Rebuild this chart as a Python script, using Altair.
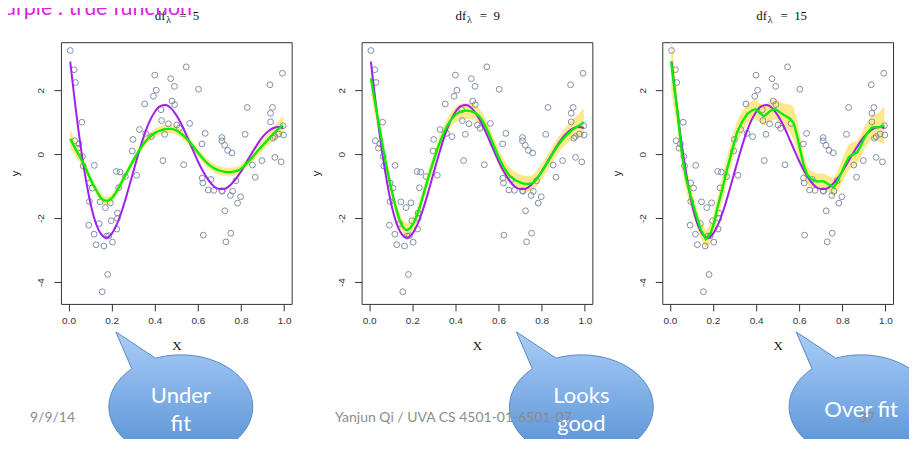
import altair as alt
import pandas as pd
import math

# ---------------- data ----------------
pts_x = [0.008,0.026,0.032,0.062,0.029,0.049,0.043,0.065,0.068,0.120,
         0.097,0.110,0.097,0.147,0.194,0.171,0.094,0.119,0.142,0.128,
         0.164,0.177,0.187,0.204,0.198,0.227,0.227,0.224,0.182,0.156,
         0.222,0.239,0.233,0.264,0.296,0.299,0.316,0.329,0.353,0.358,
         0.384,0.394,0.407,0.400,0.429,0.432,0.438,0.446,0.463,0.474,
         0.480,0.491,0.492,0.502,0.514,0.534,0.546,0.562,0.603,0.619,
         0.620,0.623,0.634,0.625,0.648,0.660,0.674,0.711,0.711,0.724,
         0.738,0.758,0.711,0.713,0.751,0.761,0.776,0.725,0.784,0.798,
         0.753,0.730,0.819,0.829,0.853,0.866,0.897,0.934,0.937,0.937,
         0.946,0.949,0.957,0.957,0.975,0.986,0.992,0.995,0.997]
pts_y = [3.24,2.64,2.24,1.00,0.42,0.32,0.19,-0.07,-0.37,-0.35,
         -0.90,-1.06,-1.48,-1.49,-1.52,-1.67,-2.22,-2.50,-2.17,-2.83,
         -2.87,-2.56,-2.55,-2.75,-2.08,-1.84,-2.01,-2.34,-3.76,-4.30,
         -0.54,-0.56,-1.05,-0.70,0.10,0.46,-0.66,0.77,1.57,0.65,
         0.55,1.81,2.00,2.47,1.39,1.05,-0.20,0.62,0.95,2.36,
         1.66,2.12,1.55,0.91,0.81,-0.33,2.73,0.96,2.03,0.32,
         -0.75,-0.90,0.65,-2.53,-1.12,-0.79,-1.13,0.52,0.42,0.28,
         0.12,0.04,-1.14,-1.16,-1.29,-1.16,-0.83,-1.77,-1.53,-1.33,
         -2.47,-2.74,0.62,1.46,-0.34,-0.72,-0.20,2.17,1.28,1.01,
         1.46,0.50,0.55,-0.10,0.63,-0.24,2.53,0.89,0.60]

grid_x = [0.008,0.025,0.05,0.075,0.1,0.125,0.15,0.175,0.2,0.225,
          0.25,0.275,0.3,0.325,0.35,0.375,0.4,0.425,0.45,0.475,
          0.5,0.525,0.55,0.575,0.6,0.625,0.65,0.675,0.7,0.725,
          0.75,0.775,0.8,0.825,0.85,0.875,0.9,0.925,0.95,0.975,0.995]
true_y = [2.89,1.90,0.56,-0.57,-1.48,-2.12,-2.49,-2.61,-2.49,-2.18,
          -1.72,-1.16,-0.56,0.03,0.57,1.01,1.32,1.50,1.54,1.44,
          1.22,0.92,0.55,0.16,-0.22,-0.55,-0.82,-1.01,-1.09,-1.08,
          -0.97,-0.78,-0.54,-0.26,0.03,0.30,0.54,0.71,0.82,0.85,0.82]

fit5 = [0.48,0.26,-0.05,-0.37,-0.75,-1.08,-1.36,-1.46,-1.38,-1.14,
        -0.83,-0.52,-0.20,0.09,0.34,0.53,0.66,0.74,0.78,0.79,
        0.74,0.63,0.47,0.27,0.05,-0.15,-0.32,-0.44,-0.51,-0.55,
        -0.56,-0.53,-0.46,-0.30,-0.12,0.08,0.27,0.46,0.64,0.80,0.90]
half5 = [0.30,0.24,0.19,0.16,0.14,0.13,0.13,0.13,0.13,0.13,
         0.13,0.13,0.13,0.13,0.13,0.13,0.13,0.13,0.13,0.13,
         0.13,0.13,0.13,0.13,0.13,0.13,0.13,0.13,0.13,0.13,
         0.13,0.13,0.13,0.13,0.14,0.15,0.16,0.18,0.21,0.25,0.30]

fit9 = [2.37,1.70,0.75,-0.20,-1.00,-1.70,-2.20,-2.37,-2.22,-1.85,
        -1.30,-0.72,-0.18,0.32,0.72,1.03,1.23,1.33,1.36,1.34,
        1.25,1.05,0.72,0.32,-0.08,-0.42,-0.66,-0.80,-0.88,-0.93,
        -0.92,-0.78,-0.55,-0.28,0.00,0.26,0.48,0.66,0.80,0.90,1.00]
half9 = [0.50,0.40,0.32,0.27,0.24,0.23,0.22,0.22,0.22,0.22,
         0.22,0.22,0.22,0.22,0.22,0.23,0.24,0.25,0.25,0.25,
         0.25,0.25,0.25,0.25,0.25,0.25,0.25,0.25,0.25,0.25,
         0.25,0.25,0.25,0.25,0.25,0.25,0.26,0.28,0.32,0.38,0.45]

x15 = [0.006,0.02,0.035,0.057,0.075,0.096,0.12,0.142,0.167,0.189,
       0.205,0.22,0.245,0.266,0.29,0.312,0.336,0.359,0.38,0.397,
       0.415,0.436,0.452,0.467,0.49,0.521,0.545,0.56,0.575,0.59,
       0.605,0.621,0.636,0.652,0.683,0.714,0.745,0.76,0.775,0.79,
       0.81,0.83,0.85,0.869,0.885,0.90,0.92,0.938,0.969,0.995]
fit15 = [2.9,2.1,1.35,-0.04,-0.75,-1.29,-1.85,-2.33,-2.66,-2.48,
         -2.15,-1.7,-1.05,-0.46,0.15,0.69,1.02,1.26,1.36,1.41,
         1.30,1.19,1.27,1.36,1.41,1.26,1.16,1.10,0.95,0.58,
         0.12,-0.35,-0.62,-0.77,-0.85,-0.85,-0.98,-1.04,-0.88,-0.67,
         -0.36,-0.09,0.0,0.06,0.25,0.48,0.70,0.84,0.84,0.90]
half15 = [0.9,0.7,0.55,0.45,0.4,0.35,0.3,0.28,0.28,0.3,
          0.32,0.35,0.4,0.4,0.38,0.35,0.32,0.3,0.3,0.3,
          0.3,0.3,0.32,0.32,0.32,0.35,0.4,0.45,0.5,0.5,
          0.45,0.35,0.3,0.27,0.25,0.25,0.27,0.3,0.32,0.35,
          0.38,0.4,0.38,0.35,0.35,0.35,0.35,0.38,0.45,0.6]

x_ticks = [0.0, 0.2, 0.4, 0.6, 0.8, 1.0]
y_ticks = [-4, -2, 0, 2]
df_values = ["5", "9", "15"]
bubble_texts = [["Under", "fit"], ["Looks", "good"], ["Over fit"]]
slide_note = "purple : true function"
footer_texts = ["9/9/14", "Yanjun Qi / UVA CS 4501-01-6501-07", "37"]

# ---------------- styling ----------------
W, H = 231, 262
X_DOMAIN = [-0.035, 1.035]
Y_DOMAIN = [-4.68, 3.5]
BAND = "#FFE680"
PURPLE = "#A020F0"
GREEN = "#00EE00"
PTCOL = "#7F8FA8"
AXCOL = "#333333"
SLIDE_FONT = "Lato"


def callout_path(a=72, b=52):
    # ellipse with a pointer tail towards the upper left (pixel units when size=4)
    t1 = math.atan2(-38 / b, -49 / a)
    t2 = math.atan2(-50 / b, -26 / a)
    tip = (-65, -75)
    pts = [(a * math.cos(t1), b * math.sin(t1)), tip]
    n = 90
    end = t1 + 2 * math.pi
    for i in range(n + 1):
        t = t2 + (end - t2) * i / n
        pts.append((a * math.cos(t), b * math.sin(t)))
    return "M" + " L".join(f"{p[0]:.2f},{p[1]:.2f}" for p in pts) + " Z"


GRAD = alt.LinearGradient(
    gradient="linear",
    stops=[alt.GradientStop(offset=0, color="#A9CDF6"),
           alt.GradientStop(offset=1, color="#5690D5")],
    x1=0, x2=0, y1=0, y2=1)


def txt(s, x, y, **kw):
    return alt.Chart(pd.DataFrame({"t": [s]})).mark_text(**kw).encode(
        x=alt.value(x), y=alt.value(y), text="t:N")


def panel(i, fx, fy, half, interp):
    xsc = alt.Scale(domain=X_DOMAIN, nice=False, zero=False)
    ysc = alt.Scale(domain=Y_DOMAIN, nice=False, zero=False)
    x_axis = alt.Axis(values=x_ticks, format=".1f", title="X", grid=False, domain=False,
                      tickSize=7, tickColor=AXCOL, labelFont="Liberation Sans", labelFontSize=10,
                      labelColor=AXCOL, labelPadding=5, labelFlush=False, labelOverlap=False,
                      titleFont="Liberation Serif", titleFontSize=13, titleFontWeight="normal",
                      titleColor="#111111", titlePadding=14)
    y_axis = alt.Axis(values=y_ticks, labelExpr="datum.value + ''", title="y", grid=False,
                      domain=False, tickSize=7, tickColor=AXCOL, labelAngle=270,
                      labelAlign="center", labelBaseline="alphabetic", labelPadding=10,
                      labelFont="Liberation Sans", labelFontSize=10, labelColor=AXCOL,
                      labelFlush=False, labelOverlap=False,
                      titleFont="Liberation Sans", titleFontSize=11, titleFontWeight="normal",
                      titleColor="#111111", titlePadding=15, titleAngle=270)

    def X(field):
        return alt.X(field, scale=xsc, axis=x_axis)

    def Y(field):
        return alt.Y(field, scale=ysc, axis=y_axis)

    pts = pd.DataFrame({"x": pts_x, "y": pts_y})
    truth = pd.DataFrame({"x": grid_x, "f": true_y})
    fit = pd.DataFrame({"x": fx, "fit": fy,
                        "lo": [v - h for v, h in zip(fy, half)],
                        "hi": [v + h for v, h in zip(fy, half)]})

    band = alt.Chart(fit).mark_area(color=BAND, opacity=0.9, interpolate=interp, clip=True).encode(
        x=X("x:Q"), y=Y("lo:Q"), y2="hi:Q")
    scatter = alt.Chart(pts).mark_point(shape="circle", filled=False, size=34, color=PTCOL,
                                        strokeWidth=1, opacity=1, clip=True).encode(
        x=X("x:Q"), y=Y("y:Q"))
    tline = alt.Chart(truth).mark_line(color=PURPLE, strokeWidth=2, interpolate="monotone",
                                       clip=True).encode(x=X("x:Q"), y=Y("f:Q"))
    fline = alt.Chart(fit).mark_line(color=GREEN, strokeWidth=2.3, interpolate=interp,
                                     clip=True).encode(x=X("x:Q"), y=Y("fit:Q"))

    title = [
        txt("df", 94, -22, align="left", baseline="alphabetic", font="Liberation Serif",
            fontSize=13, color="#111111"),
        txt("λ", 105.5, -19, align="left", baseline="alphabetic", font="Liberation Serif",
            fontSize=10, color="#111111"),
        txt("=", 122, -22, align="center", baseline="alphabetic", font="Liberation Serif",
            fontSize=13, color="#111111"),
        txt(df_values[i], 132, -22, align="left", baseline="alphabetic",
            font="Liberation Serif", fontSize=13, color="#111111"),
    ]

    centers = [120, 220, 199]
    cx, cy = centers[i], 365
    bub = alt.Chart(pd.DataFrame({"k": [0]})).mark_point(
        shape=callout_path(), size=4, filled=True, fill=GRAD, stroke="#5A89C4", strokeWidth=1,
        opacity=1).encode(x=alt.value(cx), y=alt.value(cy))
    lines = bubble_texts[i]
    ys = [cy - 11, cy + 17] if len(lines) == 2 else [cy + 3]
    btxt = [txt(s, cx, yy, align="center", baseline="middle", font=SLIDE_FONT, fontSize=22,
                color="white") for s, yy in zip(lines, ys)]

    foot_pos = [(-31, "left"), (92, "center"), (205, "center")]
    fx0, al = foot_pos[i]
    foot = txt(footer_texts[i], fx0, 376, align=al, baseline="middle", font=SLIDE_FONT,
               fontSize=14, color="#8C8C8C")

    layers = [band, scatter, tline, fline] + title + [bub] + btxt + [foot]
    if i == 0:
        layers.append(txt(slide_note, -69, -44, align="left", baseline="top", font=SLIDE_FONT,
                          fontSize=21.5, color="#DD22DD"))
    return alt.layer(*layers).properties(width=W, height=H)


p1 = panel(0, grid_x, fit5, half5, "monotone")
p2 = panel(1, grid_x, fit9, half9, "monotone")
p3 = panel(2, x15, fit15, half15, "linear")

chart = alt.hconcat(p1, p2, p3, spacing=70, bounds="flush").properties(
    padding={"left": -17, "top": -11, "right": -27, "bottom": -23}
).configure_view(stroke=AXCOL, strokeWidth=1)

chart.save("out.html", embed_options={"renderer": "svg", "actions": False})
